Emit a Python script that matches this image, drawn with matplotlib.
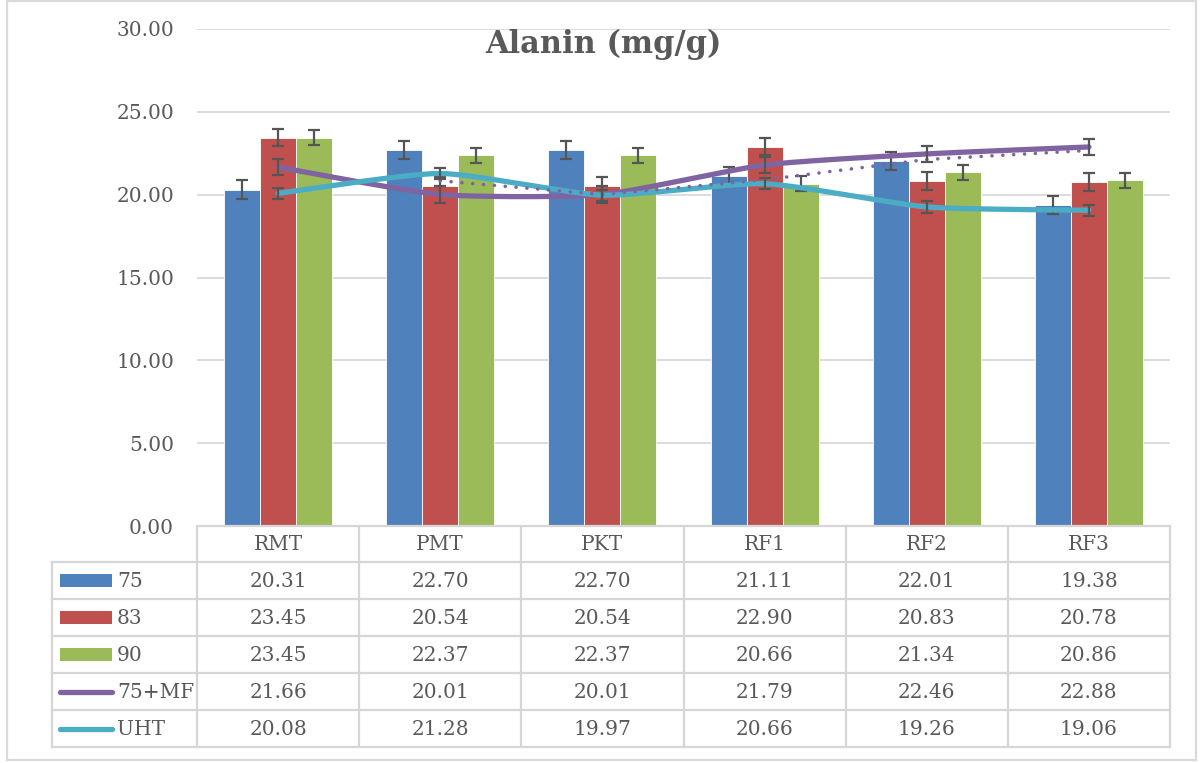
import numpy as np
import matplotlib
matplotlib.use("Agg")
import matplotlib.pyplot as plt
from matplotlib.patches import Rectangle

# ---- data ----
categories = ["RMT", "PMT", "PKT", "RF1", "RF2", "RF3"]
s75 = [20.31, 22.70, 22.70, 21.11, 22.01, 19.38]
s83 = [23.45, 20.54, 20.54, 22.90, 20.83, 20.78]
s90 = [23.45, 22.37, 22.37, 20.66, 21.34, 20.86]
s75mf = [21.66, 20.01, 20.01, 21.79, 22.46, 22.88]
suht = [20.08, 21.28, 19.97, 20.66, 19.26, 19.06]
bar_names = ["75", "83", "90"]
line_names = ["75+MF", "UHT"]
yticks = [0, 5, 10, 15, 20, 25, 30]
title = "Alanin (mg/g)"

# ---- style ----
C_BLUE, C_RED, C_GREEN = "#4F81BD", "#C0504D", "#9BBB59"
C_PURPLE, C_CYAN = "#8064A2", "#4BACC6"
TXT = "#595959"
GRID = "#D9D9D9"
ERR = "#555555"
FONT = "DejaVu Serif"
FS = 14.5

W, H = 1202, 763
fig = plt.figure(figsize=(W / 100, H / 100), dpi=100)

# plot area in pixel units
PL, PR, PT, PB = 197, 1170, 29, 526
ax = fig.add_axes([PL / W, 1 - PB / H, (PR - PL) / W, (PB - PT) / H])
ax.set_xlim(-0.5, len(categories) - 0.5)
ax.set_ylim(0, 30)
for sp in ax.spines.values():
    sp.set_visible(False)
ax.set_xticks([])
ax.set_yticks(yticks)
ax.set_yticklabels([f"{v:.2f}" for v in yticks], fontfamily=FONT,
                   fontsize=FS, color=TXT)
ax.tick_params(axis="y", length=0, pad=16.5)
ax.yaxis.grid(True, color=GRID, lw=1.3)
ax.set_axisbelow(True)


def std_err(v):
    v = np.asarray(v, float)
    return np.std(v, ddof=1) / np.sqrt(len(v))


x = np.arange(len(categories))
bw = 0.222
bars = [(s75, C_BLUE), (s83, C_RED), (s90, C_GREEN)]
for i, (vals, col) in enumerate(bars):
    xs = x + (i - 1) * bw
    ax.bar(xs, vals, width=bw, color=col, edgecolor="white", linewidth=0.6,
           zorder=2)
    ax.errorbar(xs, vals, yerr=std_err(vals), fmt="none", ecolor=ERR,
                elinewidth=1.6, capsize=4.3, capthick=1.6, zorder=3)


def smooth(xp, yp, n=40, k_t=1 / 10):
    """Bezier smoothing through the points."""
    xp = np.asarray(xp, float)
    yp = np.asarray(yp, float)
    P = np.column_stack([xp, yp])
    out = []
    for k in range(len(P) - 1):
        p0 = P[k - 1] if k > 0 else P[k]
        p1, p2 = P[k], P[k + 1]
        p3 = P[k + 2] if k + 2 < len(P) else P[k + 1]
        c1 = p1 + (p2 - p0) * k_t
        c2 = p2 - (p3 - p1) * k_t
        t = np.linspace(0, 1, n)[:, None]
        seg = ((1 - t) ** 3) * p1 + 3 * ((1 - t) ** 2) * t * c1 \
            + 3 * (1 - t) * t ** 2 * c2 + t ** 3 * p2
        out.append(seg if k == 0 else seg[1:])
    return np.vstack(out)


for vals, col in [(s75mf, C_PURPLE), (suht, C_CYAN)]:
    c = smooth(x, vals)
    ax.plot(c[:, 0], c[:, 1], color=col, lw=3.8, solid_capstyle="round",
            zorder=4)
    ax.errorbar(x, vals, yerr=std_err(vals), fmt="none", ecolor=ERR,
                elinewidth=1.6, capsize=4.3, capthick=1.6, zorder=5)

# two-period moving average trendline for 75+MF
mf = np.asarray(s75mf)
mavg = (mf[1:] + mf[:-1]) / 2
ax.plot(x[1:], mavg, color=C_PURPLE, lw=2.6, linestyle=(0, (0.01, 3.0)),
        dash_capstyle="round", zorder=4.5)

# ---- overlay in pixel coordinates: title, data table, frame ----
ov = fig.add_axes([0, 0, 1, 1])
ov.set_xlim(0, W)
ov.set_ylim(H, 0)
ov.axis("off")
ov.patch.set_alpha(0)

ov.add_patch(Rectangle((7, 1), 1189, 759, fill=False, ec=GRID, lw=1.6))
ov.text(603, 44, title, ha="center", va="center", fontfamily=FONT,
        fontweight="bold", fontsize=22, color=TXT)

TL = 52
rows_y = [526, 562, 599, 636, 673, 710, 747]
col_x = np.linspace(PL, PR, len(categories) + 1)
LC = "#D6D6D6"
lw_t = 1.6
# horizontal lines
ov.plot([PL, PR], [rows_y[0]] * 2, color=LC, lw=lw_t)
for yy in rows_y[1:]:
    ov.plot([TL, PR], [yy, yy], color=LC, lw=lw_t)
# vertical lines
for xx in col_x:
    ov.plot([xx, xx], [rows_y[0], rows_y[-1]], color=LC, lw=lw_t)
ov.plot([TL, TL], [rows_y[1], rows_y[-1]], color=LC, lw=lw_t)

# header
for j, cat in enumerate(categories):
    ov.text((col_x[j] + col_x[j + 1]) / 2, (rows_y[0] + rows_y[1]) / 2 + 1,
            cat, ha="center", va="center", fontfamily=FONT, fontsize=FS,
            color=TXT)

series_rows = [(bar_names[0], s75, C_BLUE, "bar"),
               (bar_names[1], s83, C_RED, "bar"),
               (bar_names[2], s90, C_GREEN, "bar"),
               (line_names[0], s75mf, C_PURPLE, "line"),
               (line_names[1], suht, C_CYAN, "line")]
for r, (name, vals, col, kind) in enumerate(series_rows):
    yc = (rows_y[r + 1] + rows_y[r + 2]) / 2
    if kind == "bar":
        ov.add_patch(Rectangle((60, yc - 6.5), 52, 13, fc=col, ec="none"))
    else:
        ov.plot([60, 112], [yc, yc], color=col, lw=3.8,
                solid_capstyle="round")
    ov.text(117, yc + 1, name, ha="left", va="center", fontfamily=FONT,
            fontsize=FS, color=TXT)
    for j, v in enumerate(vals):
        ov.text((col_x[j] + col_x[j + 1]) / 2, yc + 1, f"{v:.2f}",
                ha="center", va="center", fontfamily=FONT, fontsize=FS,
                color=TXT)

fig.savefig("out.png", dpi=100, facecolor="white")
